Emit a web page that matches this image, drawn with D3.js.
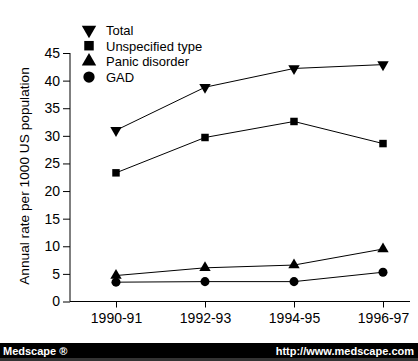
<!DOCTYPE html>
<html>
<head>
<meta charset="utf-8">
<script src="https://cdn.jsdelivr.net/npm/d3@7"></script>
<style>
body { margin: 0; background: #fff; }
svg { display: block; font-family: Arial, "Liberation Sans", sans-serif; }
</style>
</head>
<body>
<script>
// values
var periods = ["1990-91", "1992-93", "1994-95", "1996-97"];
var total = [31.0, 38.8, 42.2, 42.9];
var unspecified = [23.3, 29.7, 32.6, 28.6];
var panic = [4.7, 6.1, 6.6, 9.5];
var gad = [3.5, 3.6, 3.6, 5.3];
var yTicks = [0, 5, 10, 15, 20, 25, 30, 35, 40, 45];

var series = [
    {name: "Total", values: total, sym: d3.symbolTriangle, flip: true},
    {name: "Unspecified type", values: unspecified, sym: d3.symbolSquare},
    {name: "Panic disorder", values: panic, sym: d3.symbolTriangle},
    {name: "GAD", values: gad, sym: d3.symbolCircle}
];

var W = 418, H = 361;
var svg = d3.select("body").append("svg")
    .attr("width", W)
    .attr("height", H);

var x = d3.scalePoint()
    .domain(periods)
    .range([116, 383]);

var y = d3.scaleLinear()
    .domain([0, 45])
    .range([301.5, 53]);

// y axis
var yAxis = svg.append("g")
    .attr("transform", "translate(70,0)")
    .call(d3.axisLeft(y).tickValues(yTicks).tickSize(7).tickPadding(3));
yAxis.select(".domain").attr("d", "M0," + y(45) + "V" + y(0));

// x axis
var xAxis = svg.append("g")
    .attr("transform", "translate(0," + y(0) + ")")
    .call(d3.axisBottom(x).tickSize(6).tickPadding(6));
xAxis.select(".domain").attr("d", "M70,0H410");

svg.selectAll(".tick text")
    .attr("font-size", 14)
    .attr("font-family", "Arial, 'Liberation Sans', sans-serif")
    .attr("fill", "#000");
svg.selectAll(".domain, .tick line").attr("stroke", "#000");

svg.append("text")
    .attr("transform", "translate(29,176) rotate(-90)")
    .attr("text-anchor", "middle")
    .attr("font-size", 13.7)
    .text("Annual rate per 1000 US population");

var line = d3.line()
    .x(function(d, i) { return x(periods[i]); })
    .y(function(d) { return y(d); });

series.forEach(function(s) {
    svg.append("path")
        .attr("d", line(s.values))
        .attr("fill", "none")
        .attr("stroke", "#000")
        .attr("stroke-width", 1);
    var size = s.sym === d3.symbolSquare ? 56 : (s.sym === d3.symbolCircle ? 64 : 56);
    s.values.forEach(function(v, i) {
        svg.append("path")
            .attr("d", d3.symbol().type(s.sym).size(size)())
            .attr("transform", "translate(" + x(periods[i]) + "," + y(v) + ")" + (s.flip ? " rotate(180)" : ""))
            .attr("fill", "#000");
    });
});

// legend
series.forEach(function(s, i) {
    var ly = 30 + i * 15.7;
    var size = s.sym === d3.symbolSquare ? 90 : (s.sym === d3.symbolCircle ? 100 : 90);
    svg.append("path")
        .attr("d", d3.symbol().type(s.sym).size(size)())
        .attr("transform", "translate(89," + ly + ")" + (s.flip ? " rotate(180)" : ""))
        .attr("fill", "#000");
    svg.append("text")
        .attr("x", 106)
        .attr("y", ly + 5)
        .attr("font-size", 13)
        .text(s.name);
});

// footer banner
svg.append("rect").attr("x", 0).attr("y", 343).attr("width", W).attr("height", 15).attr("fill", "#000");
svg.append("rect").attr("x", 0).attr("y", 358).attr("width", W).attr("height", 3).attr("fill", "#333");
svg.append("text")
    .attr("x", 3).attr("y", 355)
    .attr("fill", "#fff").attr("font-size", 11).attr("font-weight", "bold")
    .text("Medscape \u00ae");
svg.append("text")
    .attr("x", 414).attr("y", 355)
    .attr("text-anchor", "end")
    .attr("fill", "#fff").attr("font-size", 11).attr("font-weight", "bold")
    .text("http://www.medscape.com");
</script>
</body>
</html>
